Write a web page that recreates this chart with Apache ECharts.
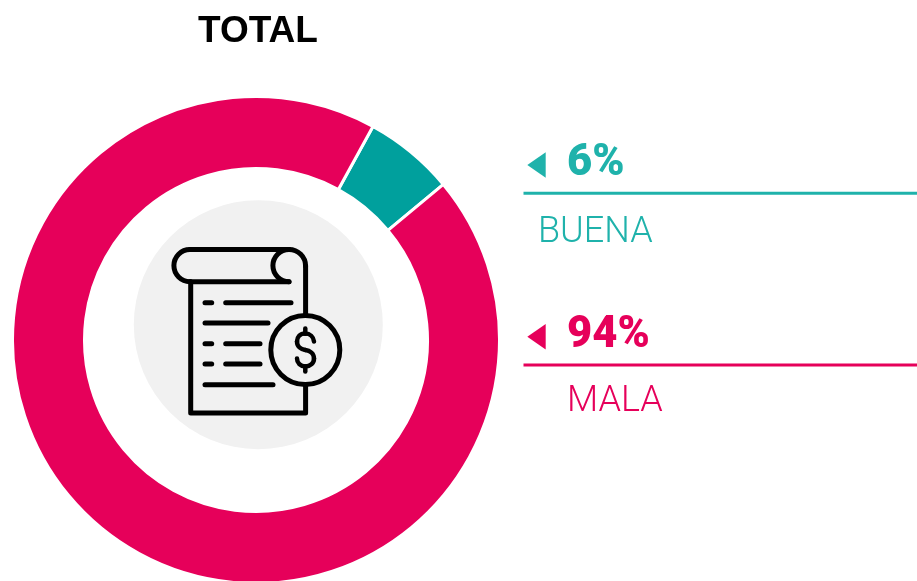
<!DOCTYPE html>
<html>
<head>
<meta charset="utf-8">
<style>html,body{margin:0;padding:0;background:#fff}#c{width:917px;height:581px}</style>
<script src="https://cdn.jsdelivr.net/npm/echarts@6/dist/echarts.min.js"></script>
</head>
<body>
<div id="c"></div>
<script>
var categories = ['BUENA', 'MALA'];
var values = [6, 94];
var shareLabels = ['6%', '94%'];
var chartTitle = 'TOTAL';
var sliceColors = ['#00A09D', '#E6005A'];
var textColors = ['#1FB2AB', '#E6005A'];

var font = 'Roboto, sans-serif';
var PI = Math.PI;
var ink = {stroke: '#000', fill: null, lineWidth: 5, lineCap: 'round', lineJoin: 'round'};

function seg(pts) { return {type: 'polyline', z: 12, shape: {points: pts}, style: ink}; }
function arc(cx, cy, r, a, b, cw) { return {type: 'arc', z: 12, shape: {cx: cx, cy: cy, r: r, startAngle: a, endAngle: b, clockwise: cw}, style: ink}; }
function bez(a, b, c, d, w) {
  return {type: 'bezierCurve', z: 13, shape: {x1: a[0], y1: a[1], cpx1: b[0], cpy1: b[1], cpx2: c[0], cpy2: c[1], x2: d[0], y2: d[1]},
    style: {stroke: '#000', fill: null, lineWidth: 4.5, lineCap: 'round'}};
}
var rowGraphics = [];
var rowY = [0, 171.7];
var labelX = [538, 567];
var labelY = [233, 402];
categories.forEach(function (name, i) {
  var dy = rowY[i];
  rowGraphics.push(
    {type: 'polygon', z: 10, shape: {points: [[527.3, 165 + dy], [545.7, 152.3 + dy], [545.7, 177.7 + dy]]}, style: {fill: textColors[i]}},
    {type: 'line', z: 10, shape: {x1: 523.5, y1: 193.3 + dy, x2: 917, y2: 193.3 + dy}, style: {stroke: textColors[i], lineWidth: 3}},
    {type: 'text', z: 10, x: 567, y: 164.5 + dy, style: {text: shareLabels[i], fill: textColors[i], fontFamily: font, fontWeight: 900, fontSize: 43.5, verticalAlign: 'middle'}},
    {type: 'text', z: 10, x: labelX[i], y: labelY[i], style: {text: name, fill: textColors[i], fontFamily: font, fontWeight: 300, fontSize: 36, verticalAlign: 'middle'}}
  );
});

var chart = echarts.init(document.getElementById('c'), null, {renderer: 'canvas'});
chart.setOption({
  animation: false,
  title: {
    text: chartTitle, left: 258, top: 13, textAlign: 'center', padding: 0,
    textStyle: {fontFamily: 'Liberation Sans', fontWeight: 'bold', fontSize: 37, color: '#000'}
  },
  series: [{
    type: 'pie',
    center: [256, 340],
    radius: [171.5, 243.5],
    startAngle: 61.3,
    silent: true,
    label: {show: false},
    labelLine: {show: false},
    itemStyle: {borderColor: '#fff', borderWidth: 3},
    data: categories.map(function (n, i) {
      return {name: n, value: values[i], itemStyle: {color: sliceColors[i]}};
    })
  }],
  graphic: rowGraphics.concat([
    {type: 'circle', z: 5, shape: {cx: 258.3, cy: 324.7, r: 124.5}, style: {fill: '#F1F1F1'}},
    arc(190, 265.6, 16.1, PI / 2, 3 * PI / 2, true),
    seg([[190, 249.5], [289, 249.5]]),
    arc(289, 266, 16.6, -PI / 2, 0, true),
    seg([[305.6, 266], [305.6, 315]]),
    seg([[305.6, 385], [305.6, 413], [190.7, 413], [190.7, 281.7]]),
    arc(289, 265.6, 16.1, -PI / 2, PI / 2, false),
    seg([[190, 281.7], [289, 281.7]]),
    seg([[205, 302.7], [211.7, 302.7]]), seg([[225.7, 302.7], [291, 302.7]]),
    seg([[205, 323], [268, 323]]),
    seg([[205, 343.7], [211.7, 343.7]]), seg([[225.7, 343.7], [260, 343.7]]),
    seg([[205, 364], [211.7, 364]]), seg([[225.7, 364], [260, 364]]),
    seg([[205, 384.7], [273, 384.7]]),
    {type: 'circle', z: 12, shape: {cx: 305.3, cy: 350, r: 34.5}, style: {fill: '#F1F1F1', stroke: '#000', lineWidth: 5}},
    bez([314, 341.5], [313.5, 337], [310, 333.5], [305.3, 333.5]),
    bez([305.3, 333.5], [300, 333.5], [297, 337], [297, 341.5]),
    bez([297, 341.5], [297, 346.5], [301, 349.5], [305.3, 350]),
    bez([305.3, 350], [310, 350.5], [314, 353.5], [314, 358.5]),
    bez([314, 358.5], [314, 363], [310.5, 366.5], [305.3, 366.5]),
    bez([305.3, 366.5], [300.5, 366.5], [297, 363], [297, 358.5]),
    bez([305.3, 328.5], [305.3, 330], [305.3, 332], [305.3, 333.5]),
    bez([305.3, 366.5], [305.3, 368], [305.3, 370], [305.3, 371.5])
  ])
});
</script>
</body>
</html>
